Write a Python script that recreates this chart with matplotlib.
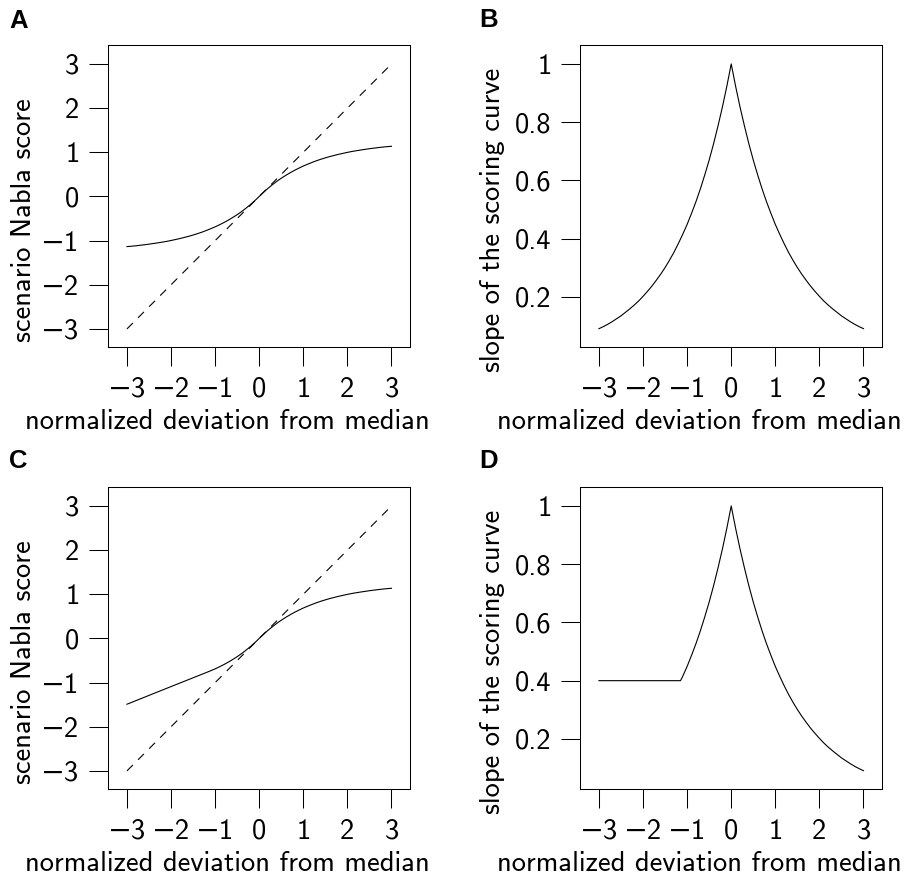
import matplotlib
matplotlib.use("Agg")
import matplotlib.pyplot as plt

plt.rcParams['font.family'] = ['cmss10', 'DejaVu Sans']
plt.rcParams['axes.unicode_minus'] = True
plt.rcParams['lines.scale_dashes'] = False

# data
x_ab = [-3.0, -2.9, -2.8, -2.7, -2.6, -2.5, -2.4, -2.3, -2.2, -2.1, -2.0,
        -1.9, -1.8, -1.7, -1.6, -1.5, -1.4, -1.3, -1.2, -1.1, -1.0,
        -0.9, -0.8, -0.7, -0.6, -0.5, -0.4, -0.3, -0.2, -0.1, 0.0,
        0.1, 0.2, 0.3, 0.4, 0.5, 0.6, 0.7, 0.8, 0.9, 1.0,
        1.1, 1.2, 1.3, 1.4, 1.5, 1.6, 1.7, 1.8, 1.9, 2.0,
        2.1, 2.2, 2.3, 2.4, 2.5, 2.6, 2.7, 2.8, 2.9, 3.0]
score_a = [-1.136, -1.128, -1.118, -1.106, -1.094, -1.081, -1.066, -1.051, -1.035, -1.018, -0.998,
           -0.976, -0.954, -0.929, -0.903, -0.874, -0.843, -0.809, -0.771, -0.731, -0.689,
           -0.641, -0.591, -0.536, -0.476, -0.413, -0.343, -0.266, -0.185, -0.096, 0.0,
           0.096, 0.185, 0.266, 0.343, 0.413, 0.476, 0.536, 0.591, 0.641, 0.689,
           0.731, 0.771, 0.809, 0.843, 0.874, 0.903, 0.929, 0.954, 0.976, 0.998,
           1.018, 1.035, 1.051, 1.066, 1.081, 1.094, 1.106, 1.118, 1.128, 1.136]
slope_b = [0.091, 0.098, 0.106, 0.115, 0.125, 0.135, 0.147, 0.159, 0.172, 0.186, 0.202,
           0.219, 0.237, 0.257, 0.278, 0.301, 0.326, 0.353, 0.383, 0.415, 0.449,
           0.487, 0.527, 0.571, 0.619, 0.670, 0.726, 0.787, 0.852, 0.923, 1.0,
           0.923, 0.852, 0.787, 0.726, 0.670, 0.619, 0.571, 0.527, 0.487, 0.449,
           0.415, 0.383, 0.353, 0.326, 0.301, 0.278, 0.257, 0.237, 0.219, 0.202,
           0.186, 0.172, 0.159, 0.147, 0.135, 0.125, 0.115, 0.106, 0.098, 0.091]

x_cd = [-3.0, -2.0, -1.15, -1.1, -1.0,
        -0.9, -0.8, -0.7, -0.6, -0.5, -0.4, -0.3, -0.2, -0.1, 0.0,
        0.1, 0.2, 0.3, 0.4, 0.5, 0.6, 0.7, 0.8, 0.9, 1.0,
        1.1, 1.2, 1.3, 1.4, 1.5, 1.6, 1.7, 1.8, 1.9, 2.0,
        2.1, 2.2, 2.3, 2.4, 2.5, 2.6, 2.7, 2.8, 2.9, 3.0]
score_c = [-1.49, -1.09, -0.752, -0.731, -0.689,
           -0.641, -0.591, -0.536, -0.476, -0.413, -0.343, -0.266, -0.185, -0.096, 0.0,
           0.096, 0.185, 0.266, 0.343, 0.413, 0.476, 0.536, 0.591, 0.641, 0.689,
           0.731, 0.771, 0.809, 0.843, 0.874, 0.903, 0.929, 0.954, 0.976, 0.998,
           1.018, 1.035, 1.051, 1.066, 1.081, 1.094, 1.106, 1.118, 1.128, 1.136]
slope_d = [0.40, 0.40, 0.40, 0.415, 0.449,
           0.487, 0.527, 0.571, 0.619, 0.670, 0.726, 0.787, 0.852, 0.923, 1.0,
           0.923, 0.852, 0.787, 0.726, 0.670, 0.619, 0.571, 0.527, 0.487, 0.449,
           0.415, 0.383, 0.353, 0.326, 0.301, 0.278, 0.257, 0.237, 0.219, 0.202,
           0.186, 0.172, 0.159, 0.147, 0.135, 0.125, 0.115, 0.106, 0.098, 0.091]

diag = [-3, 3]
x_ticks = [-3, -2, -1, 0, 1, 2, 3]
score_ticks = [-3, -2, -1, 0, 1, 2, 3]
slope_ticks = [0.2, 0.4, 0.6, 0.8, 1.0]
slope_labels = ['0.2', '0.4', '0.6', '0.8', '1']

xlab = 'normalized deviation from median'
ylab_score = 'scenario Nabla score'
ylab_slope = 'slope of the scoring curve'

W, H = 909, 877
FS = 20.5
LW = 0.8
fig = plt.figure(figsize=(W / 100, H / 100), dpi=100)


def px_axes(left, top, w=302, h=302):
    return fig.add_axes([left / W, 1 - (top + h) / H, w / W, h / H])


def style(ax, yticks, ylabels, ylab, ylab_x):
    ax.set_xticks(x_ticks)
    ax.set_xticklabels([str(t).replace('-', '\u2212') for t in x_ticks])
    ax.set_yticks(yticks)
    ax.set_yticklabels(ylabels)
    ax.tick_params(direction='out', length=13.5, width=0.75, labelsize=FS, pad=8)
    ax.tick_params(axis='y', pad=7)
    for s in ax.spines.values():
        s.set_linewidth(0.75)
    ax.text(0.396, -0.2715, xlab, transform=ax.transAxes, ha='center',
            va='baseline', fontsize=FS)
    ax.text(ylab_x, 0.42, ylab, transform=ax.transAxes, ha='center', va='baseline',
            rotation=90, rotation_mode='anchor', fontsize=FS)


score_lab = [str(t).replace('-', '\u2212') for t in score_ticks]

axA = px_axes(108, 45)
axA.plot(x_ab, score_a, color='black', lw=LW)
axA.plot(diag, diag, color='black', lw=LW, dashes=(6, 5.3))
axA.set_xlim(-3.43, 3.42)
axA.set_ylim(-3.41, 3.43)
style(axA, score_ticks, score_lab, ylab_score, -0.255)

axB = px_axes(580, 45)
axB.plot(x_ab, slope_b, color='black', lw=LW)
axB.set_xlim(-3.43, 3.42)
axB.set_ylim(0.028, 1.065)
style(axB, slope_ticks, slope_labels, ylab_slope, -0.265)

axC = px_axes(108, 487)
axC.plot(x_cd, score_c, color='black', lw=LW)
axC.plot(diag, diag, color='black', lw=LW, dashes=(6, 5.3))
axC.set_xlim(-3.43, 3.42)
axC.set_ylim(-3.41, 3.43)
style(axC, score_ticks, score_lab, ylab_score, -0.255)

axD = px_axes(580, 487)
axD.plot(x_cd, slope_d, color='black', lw=LW)
axD.set_xlim(-3.43, 3.42)
axD.set_ylim(0.028, 1.065)
style(axD, slope_ticks, slope_labels, ylab_slope, -0.265)

for lab, px, py in [('A', 9, 28), ('B', 479, 27), ('C', 9, 468), ('D', 479, 468)]:
    fig.text(px / W, 1 - py / H, lab, ha='left', va='baseline', fontsize=18.5,
             fontweight='bold', family='Liberation Sans')

fig.savefig('out.png', dpi=100)
